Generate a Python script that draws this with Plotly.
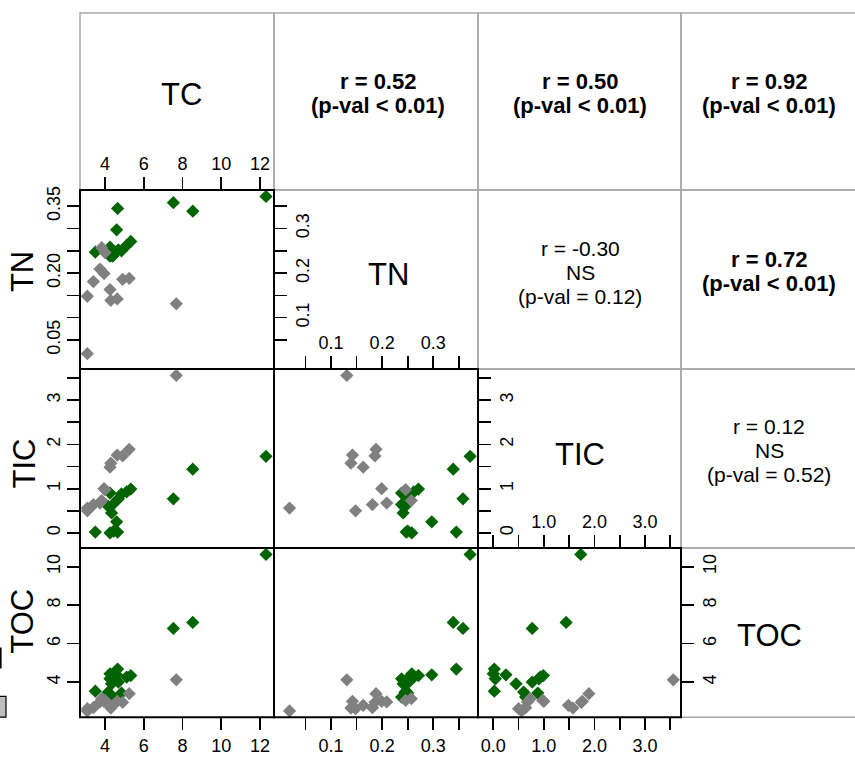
import plotly.graph_objects as go

# ---------------- data ----------------
variables = ["TC", "TN", "TIC", "TOC"]

# group 1 (dark green)
green_TC  = [12.31, 8.53, 7.53, 4.65, 4.60, 3.50, 4.26, 4.45, 4.34, 4.17, 4.40, 4.69, 4.26, 5.12, 5.33, 4.85]
green_TN  = [0.372, 0.339, 0.358, 0.345, 0.297, 0.247, 0.258, 0.250, 0.241, 0.245, 0.238, 0.252, 0.238, 0.262, 0.271, 0.250]
green_TIC = [1.73, 1.44, 0.77, 0.02, 0.25, 0.02, 0.00, 0.04, 0.45, 0.60, 0.64, 0.77, 0.90, 0.93, 0.99, 0.88]
green_TOC = [10.64, 7.10, 6.79, 4.68, 4.38, 3.53, 4.43, 4.17, 3.91, 3.48, 3.22, 4.00, 4.17, 4.26, 4.34, 3.43]

# group 2 (grey)
grey_TC  = [7.68, 4.63, 4.30, 5.25, 4.91, 4.26, 3.95, 3.40, 3.74, 3.09, 3.09, 4.00, 3.83]
grey_TN  = [0.131, 0.142, 0.139, 0.188, 0.186, 0.163, 0.199, 0.181, 0.209, 0.148, 0.019, 0.246, 0.257]
grey_TIC = [3.56, 1.76, 1.575, 1.89, 1.74, 1.485, 1.00, 0.64, 0.675, 0.50, 0.56, 0.976, 0.73]
grey_TOC = [4.12, 3.00, 2.65, 3.40, 2.95, 2.79, 3.00, 2.67, 2.97, 2.62, 2.50, 3.05, 3.14]

# correlation texts (upper panels): lines, bold?
corr_text = {
    (0, 1): (["r = 0.52", "(p-val &lt; 0.01)"], True),
    (0, 2): (["r = 0.50", "(p-val &lt; 0.01)"], True),
    (0, 3): (["r = 0.92", "(p-val &lt; 0.01)"], True),
    (1, 2): (["r = -0.30", "NS", "(p-val = 0.12)"], False),
    (1, 3): (["r = 0.72", "(p-val &lt; 0.01)"], True),
    (2, 3): (["r = 0.12", "NS", "(p-val = 0.52)"], False),
}

# axis ticks
TC_ticks = [4, 6, 8, 10, 12]
TN_ticks = [0.05, 0.10, 0.15, 0.20, 0.25, 0.30, 0.35]
TIC_ticks = [0, 0.5, 1, 1.5, 2, 2.5, 3, 3.5]
TOC_ticks = [4, 6, 8, 10]

TC_lab = ["4", "6", "8", "10", "12"]
TN_lab_left = ["0.05", "", "", "0.20", "", "", "0.35"]
TN_lab_std = ["", "0.1", "", "0.2", "", "0.3", ""]
TIC_lab_y = ["0", "", "1", "", "2", "", "3", ""]
TIC_lab_top = ["", "", "1.0", "", "2.0", "", "3.0", ""]
TIC_lab_bot = ["0.0", "", "1.0", "", "2.0", "", "3.0", ""]
TOC_lab = ["4", "6", "8", "10"]

# ---------------- layout geometry (pixels) ----------------
W, H = 855, 757
col_px = [(80, 274), (274, 478), (478, 681), (681, 870)]
row_px = [(9, 187), (187, 367), (367, 547), (547, 717)]

def px(x):
    return x / W

def py(y):
    return 1 - y / H

def xdom(c):
    a, b = col_px[c]
    return [px(a), min(px(b), 1.0)]

def ydom(r):
    a, b = row_px[r]
    return [py(b), py(a)]

ranges = {
    "TC": [2.710, 12.723],
    "TN_x": [-0.0114, 0.3874],
    "TN_y": [-0.0154, 0.3864],
    "TIC_x": [-0.3025, 3.712],
    "TIC_y": [-0.344, 3.704],
    "TOC": [2.174, 10.967],
}

FONT = "Liberation Sans, Arial, Helvetica, sans-serif"
GREEN = "#006400"
GREY = "#808080"
BORDER_GREY = "#a8a8a8"
TICKFONT = dict(family=FONT, size=18, color="black")
MSIZE = 10.2

data = {
    "TC": (green_TC, grey_TC),
    "TN": (green_TN, grey_TN),
    "TIC": (green_TIC, grey_TIC),
    "TOC": (green_TOC, grey_TOC),
}

fig = go.Figure()

def tick_axis(vals, labels, side=None, **kw):
    d = dict(
        tickmode="array", tickvals=vals, ticktext=labels,
        ticks="outside", ticklen=12, tickwidth=1.7, tickcolor="black",
        showticklabels=True,
        showline=False, showgrid=False, zeroline=False,
        tickfont=TICKFONT, fixedrange=True,
    )
    if side:
        d["side"] = side
    d.update(kw)
    return d

def hidden_axis(**kw):
    d = dict(showticklabels=False, ticks="", showline=False, showgrid=False,
             zeroline=False, fixedrange=True)
    d.update(kw)
    return d

# lower panels: (row, col, xvar, yvar)
panels = [
    (1, 0, "TC", "TN"),
    (2, 0, "TC", "TIC"),
    (2, 1, "TN", "TIC"),
    (3, 0, "TC", "TOC"),
    (3, 1, "TN", "TOC"),
    (3, 2, "TIC", "TOC"),
]

def xr(var):
    return ranges["TN_x"] if var == "TN" else ranges["TIC_x"] if var == "TIC" else ranges[var]

def yr(var):
    return ranges["TN_y"] if var == "TN" else ranges["TIC_y"] if var == "TIC" else ranges[var]

layout_axes = {}
for i, (r, c, xv, yv) in enumerate(panels, start=1):
    xs = "" if i == 1 else str(i)
    layout_axes["xaxis" + xs] = hidden_axis(domain=xdom(c), range=xr(xv), anchor="y" + xs)
    layout_axes["yaxis" + xs] = hidden_axis(domain=ydom(r), range=yr(yv), anchor="x" + xs)
    gx, ex = data[xv]
    gy, ey = data[yv]
    fig.add_trace(go.Scatter(x=gx, y=gy, mode="markers", xaxis="x" + xs, yaxis="y" + xs,
                             marker=dict(symbol="diamond", size=MSIZE, color=GREEN, line=dict(width=0)),
                             showlegend=False, hoverinfo="skip"))
    fig.add_trace(go.Scatter(x=ex, y=ey, mode="markers", xaxis="x" + xs, yaxis="y" + xs,
                             marker=dict(symbol="diamond", size=MSIZE, color=GREY, line=dict(width=0)),
                             showlegend=False, hoverinfo="skip"))

# r2c1: top TC, left TN
layout_axes["xaxis"].update(tick_axis(TC_ticks, TC_lab, side="top"))
layout_axes["yaxis"].update(tick_axis(TN_ticks, TN_lab_left, side="left", tickangle=-90))
# r3c1: left TIC
layout_axes["yaxis2"].update(tick_axis(TIC_ticks, TIC_lab_y, side="left", tickangle=-90))
# r3c2: top TN, right TIC
layout_axes["xaxis3"].update(tick_axis(TN_ticks, TN_lab_std, side="top"))
layout_axes["yaxis3"].update(tick_axis(TIC_ticks, TIC_lab_y, side="right", tickangle=-90))
# r4c1: bottom TC, left TOC
layout_axes["xaxis4"].update(tick_axis(TC_ticks, TC_lab, side="bottom"))
layout_axes["yaxis4"].update(tick_axis(TOC_ticks, TOC_lab, side="left", tickangle=-90))
# r4c2: bottom TN
layout_axes["xaxis5"].update(tick_axis(TN_ticks, TN_lab_std, side="bottom"))
# r4c3: top TIC, right TOC
layout_axes["xaxis6"].update(tick_axis(TIC_ticks, TIC_lab_top, side="top"))
layout_axes["yaxis6"].update(tick_axis(TOC_ticks, TOC_lab, side="right", tickangle=-90))

# overlay axes: right TN of r2c1, bottom TIC of r4c3
layout_axes["yaxis7"] = tick_axis(TN_ticks, TN_lab_std, side="right", tickangle=-90,
                                  overlaying="y", anchor="x", range=ranges["TN_y"], domain=ydom(1))
layout_axes["xaxis8"] = tick_axis(TIC_ticks, TIC_lab_bot, side="bottom",
                                  overlaying="x6", anchor="y6", range=ranges["TIC_x"], domain=xdom(2))
fig.add_trace(go.Scatter(x=[None], y=[None], xaxis="x", yaxis="y7", mode="markers",
                         showlegend=False, hoverinfo="skip"))
fig.add_trace(go.Scatter(x=[None], y=[None], xaxis="x8", yaxis="y6", mode="markers",
                         showlegend=False, hoverinfo="skip"))

# ---------------- borders ----------------
shapes = []
lower = {(r, c) for (r, c, _, _) in panels}
for r in range(4):
    for c in range(4):
        if (r, c) in lower:
            continue
        x0, x1 = col_px[c]
        y0, y1 = row_px[r]
        shapes.append(dict(type="rect", xref="paper", yref="paper",
                           x0=px(x0), x1=px(x1), y0=py(y1), y1=py(y0),
                           line=dict(color=BORDER_GREY, width=1.5), layer="below"))
for (r, c) in lower:
    x0, x1 = col_px[c]
    y0, y1 = row_px[r]
    shapes.append(dict(type="rect", xref="paper", yref="paper",
                       x0=px(x0), x1=px(x1), y0=py(y1), y1=py(y0),
                       line=dict(color="black", width=2), layer="above"))

# clipped legend fragment at lower left
shapes.append(dict(type="rect", xref="paper", yref="paper",
                   x0=px(-12), x1=px(6), y0=py(717), y1=py(696),
                   line=dict(color="black", width=1.2), fillcolor="#bebebe"))
shapes.append(dict(type="line", xref="paper", yref="paper",
                   x0=px(0.8), x1=px(0.8), y0=py(668), y1=py(647),
                   line=dict(color="black", width=1.6)))

# ---------------- annotations ----------------
ann = []
diag_pos = {"TC": (181, 91), "TN": (388, 272), "TIC": (580, 453), "TOC": (769, 635)}
for v, (x, y) in diag_pos.items():
    ann.append(dict(text=v, x=px(x), y=py(y), xref="paper", yref="paper",
                    showarrow=False, xanchor="center", yanchor="middle",
                    font=dict(family=FONT, size=31, color="black")))

row_lab_pos = {"TN": (22.5, 269), "TIC": (25, 462), "TOC": (23, 621)}
for v, (x, y) in row_lab_pos.items():
    ann.append(dict(text=v, x=px(x), y=py(y), xref="paper", yref="paper",
                    showarrow=False, xanchor="center", yanchor="middle", textangle=-90,
                    font=dict(family=FONT, size=31, color="black")))

upper_center = {
    (0, 1): (378, 90), (0, 2): (580, 90), (0, 3): (769, 90),
    (1, 2): (580, 270), (1, 3): (769, 269), (2, 3): (769, 449),
}
LINE = 24
for key, (lines, bold) in corr_text.items():
    x, y = upper_center[key]
    n = len(lines)
    for k, t in enumerate(lines):
        yy = y + (k - (n - 1) / 2) * LINE
        ann.append(dict(text=("<b>" + t + "</b>") if bold else t,
                        x=px(x), y=py(yy), xref="paper", yref="paper",
                        showarrow=False, xanchor="center", yanchor="middle",
                        font=dict(family=FONT, size=22 if bold else 21, color="black")))

fig.update_layout(
    width=W, height=H,
    margin=dict(l=0, r=0, t=0, b=0),
    paper_bgcolor="white", plot_bgcolor="rgba(0,0,0,0)",
    showlegend=False,
    shapes=shapes, annotations=ann,
    **layout_axes,
)

fig.write_html("out.html",
               config={"displayModeBar": False, "staticPlot": True},
               post_script="document.body.style.margin='0px';document.body.style.overflow='hidden';")
